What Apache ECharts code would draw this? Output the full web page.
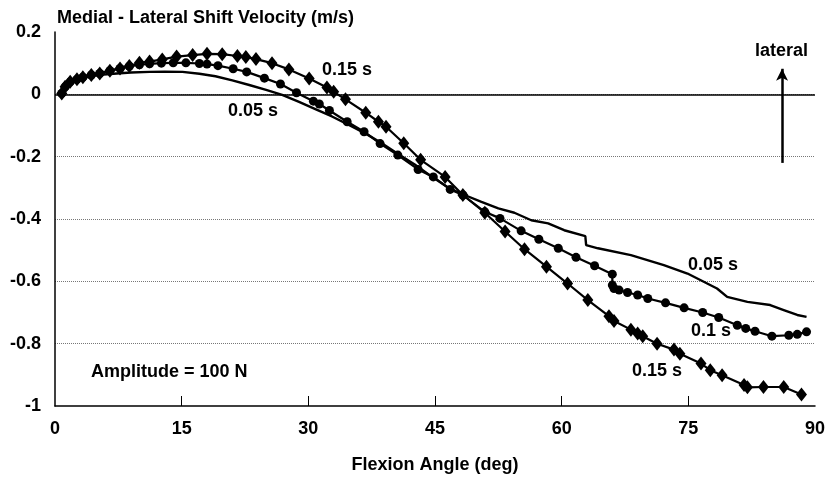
<!DOCTYPE html>
<html>
<head>
<meta charset="utf-8">
<script src="https://cdn.jsdelivr.net/npm/echarts@6/dist/echarts.min.js"></script>
<style>html,body{margin:0;padding:0;background:#fff;}#c{width:828px;height:479px;}</style>
</head>
<body>
<div id="c"></div>
<script>
// Flexion angle (deg) and medial-lateral shift velocity (m/s)
const x005 = [0.7,1.2,2,3.3,5,7.3,9,11.2,13,15.1,17.1,19,21.0,23,25.0,26.9,28.9,30.9,32.8,34.8,36.8,38.7,40.5,42.6,44.5,46.6,48.5,50.5,52.5,54.4,56.4,58.4,60.3,62.8,62.9,64.3,68.2,72.1,74.9,78.4,79.6,82.0,84.7,86.3,87.9,89.0];
const y005 = [0.0,0.025,0.04,0.055,0.062,0.067,0.07,0.072,0.073,0.072,0.066,0.058,0.045,0.03,0.014,-0.002,-0.024,-0.048,-0.071,-0.098,-0.126,-0.157,-0.189,-0.225,-0.262,-0.3,-0.323,-0.345,-0.366,-0.38,-0.404,-0.414,-0.436,-0.455,-0.484,-0.494,-0.516,-0.548,-0.575,-0.623,-0.65,-0.666,-0.676,-0.692,-0.708,-0.714];

const x010 = [0.8,1.2,1.8,2.6,3.3,4.3,5.3,6.5,7.7,8.8,10.0,11.2,12.6,14.0,15.5,17.1,18.0,19.3,21.1,22.7,24.8,26.7,28.6,30.6,31.3,32.5,34.6,36.6,38.5,40.6,43.0,44.8,46.8,48.3,50.9,52.7,55.2,57.3,59.6,61.7,63.9,66.0,66.0,66.2,66.8,67.8,69.0,70.2,72.3,74.5,76.7,78.6,80.8,81.8,82.9,84.9,86.9,87.9,89.0];
const y010 = [0.003,0.024,0.04,0.048,0.055,0.062,0.067,0.076,0.083,0.09,0.095,0.098,0.10,0.101,0.101,0.099,0.097,0.092,0.082,0.072,0.052,0.033,0.005,-0.022,-0.031,-0.052,-0.088,-0.12,-0.158,-0.195,-0.241,-0.265,-0.305,-0.323,-0.377,-0.398,-0.438,-0.465,-0.494,-0.523,-0.55,-0.577,-0.612,-0.623,-0.628,-0.636,-0.644,-0.655,-0.669,-0.685,-0.70,-0.716,-0.741,-0.751,-0.76,-0.776,-0.773,-0.77,-0.762];

const x015 = [0.8,1.2,1.8,2.6,3.3,4.3,5.3,6.5,7.7,8.8,10.0,11.2,12.7,14.4,16.3,18.0,19.8,21.6,22.6,23.8,25.7,27.7,30.1,32.2,33.0,34.4,36.8,38.3,39.2,41.3,43.3,46.2,48.3,50.9,53.3,55.6,58.2,60.7,63.1,65.6,66.2,68.2,69.0,69.6,71.3,73.3,74.0,76.5,77.6,79.0,81.6,82.0,83.9,86.3,88.4];
const y015 = [0.003,0.024,0.04,0.048,0.055,0.062,0.067,0.076,0.083,0.091,0.101,0.105,0.112,0.121,0.126,0.13,0.129,0.123,0.12,0.113,0.10,0.08,0.051,0.022,0.008,-0.016,-0.059,-0.088,-0.104,-0.157,-0.21,-0.265,-0.323,-0.38,-0.44,-0.497,-0.553,-0.607,-0.66,-0.712,-0.727,-0.755,-0.767,-0.776,-0.80,-0.819,-0.832,-0.864,-0.885,-0.901,-0.933,-0.94,-0.939,-0.939,-0.963];

const xTicks = [15,30,45,60,75];
const FONT = "'Liberation Sans', Arial, Helvetica, sans-serif";

const pairs = (xs, ys) => xs.map((v, i) => [v, ys[i]]);

const chart = echarts.init(document.getElementById('c'), null, {renderer: 'canvas'});
const txt = (text, x, y, align) => ({
  type: 'text', x: x, y: y, silent: true,
  style: {text: text, fill: '#000', font: 'bold 18px ' + FONT, align: align || 'left', verticalAlign: 'middle'}
});
chart.setOption({
  animation: false,
  backgroundColor: '#fff',
  title: {
    text: 'Medial - Lateral Shift Velocity (m/s)',
    left: 52, top: 4,
    textStyle: {fontFamily: FONT, fontSize: 18, fontWeight: 'bold', color: '#000'}
  },
  grid: {left: 55, top: 32, right: 10, bottom: 73},
  xAxis: {
    type: 'value', min: 0, max: 90, interval: 15,
    name: 'Flexion Angle (deg)', nameLocation: 'middle', nameGap: 50,
    nameTextStyle: {fontFamily: FONT, fontSize: 18, fontWeight: 'bold', color: '#000'},
    axisLine: {show: true, onZero: false, lineStyle: {color: '#000', width: 1.5}},
    axisTick: {show: true, inside: true, length: 10, customValues: xTicks, lineStyle: {color: '#000', width: 1}},
    axisLabel: {margin: 14, fontFamily: FONT, fontSize: 18, fontWeight: 'bold', color: '#000'},
    splitLine: {show: false}
  },
  yAxis: {
    type: 'value', min: -1, max: 0.2, interval: 0.2,
    axisLine: {show: true, onZero: false, lineStyle: {color: '#000', width: 1.5}},
    axisTick: {show: false},
    axisLabel: {margin: 14, fontFamily: FONT, fontSize: 18, fontWeight: 'bold', color: '#000',
      formatter: v => (Math.abs(v) < 1e-9 ? '0' : String(+v.toFixed(1)))},
    splitLine: {show: true, showMinLine: false, showMaxLine: false, lineStyle: {color: '#777', type: 'dotted', width: 1}}
  },
  series: [
    {
      name: '0.05 s', type: 'line', data: pairs(x005, y005), showSymbol: false, symbol: 'none',
      lineStyle: {color: '#000', width: 2.4}, z: 3,
      markLine: {
        silent: true, symbol: 'none', label: {show: false},
        lineStyle: {color: '#000', width: 1.5, type: 'solid'},
        data: [{yAxis: 0}]
      }
    },
    {
      name: '0.1 s', type: 'line', data: pairs(x010, y010), symbol: 'circle', symbolSize: 9,
      itemStyle: {color: '#000'}, lineStyle: {color: '#000', width: 2.2}, z: 4
    },
    {
      name: '0.15 s', type: 'line', data: pairs(x015, y015), symbol: 'diamond', symbolSize: [11, 14],
      itemStyle: {color: '#000'}, lineStyle: {color: '#000', width: 2.2}, z: 5,
      markLine: {
        silent: true, symbol: ['none', 'arrow'], symbolSize: [9, 12], label: {show: false},
        lineStyle: {color: '#000', width: 2.5, type: 'solid'},
        data: [[{coord: [86.1, -0.22]}, {coord: [86.1, 0.082]}]]
      }
    }
  ],
  graphic: [
    txt('lateral', 755, 51),
    txt('0.15 s', 322, 70),
    txt('0.05 s', 228, 111),
    txt('0.05 s', 688, 265),
    txt('0.1 s', 691, 331),
    txt('0.15 s', 632, 371),
    txt('Amplitude = 100 N', 91, 372)
  ]
});
</script>
</body>
</html>
